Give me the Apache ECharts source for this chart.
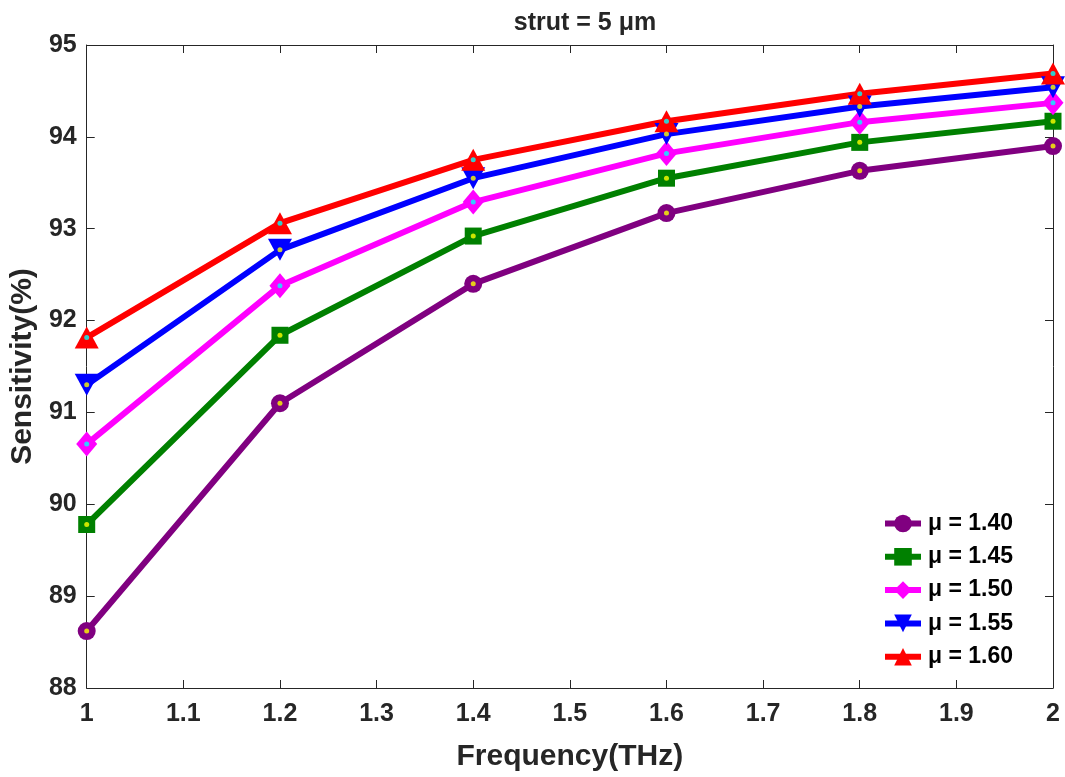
<!DOCTYPE html>
<html><head><meta charset="utf-8">
<script src="https://cdn.jsdelivr.net/npm/echarts@6/dist/echarts.min.js"></script>
<style>html,body{margin:0;padding:0;background:#fff}#c{width:1065px;height:777px}</style>
</head><body><div id="c"></div>
<script>
const freq = [1.0, 1.2, 1.4, 1.6, 1.8, 2.0];
const mu140 = [88.62, 91.10, 92.40, 93.17, 93.63, 93.90];
const mu145 = [89.78, 91.84, 92.92, 93.55, 93.94, 94.17];
const mu150 = [90.655, 92.38, 93.29, 93.82, 94.16, 94.37];
const mu155 = [91.30, 92.77, 93.55, 94.03, 94.33, 94.54];
const mu160 = [91.815, 93.06, 93.75, 94.17, 94.47, 94.69];
const names = ['μ = 1.40', 'μ = 1.45', 'μ = 1.50', 'μ = 1.55', 'μ = 1.60'];
const title = 'strut = 5 μm';

const groups = [
  {name: names[0], data: mu140, color: '#800080', dot: '#ffff00', symbol: 'circle', size: 18, rot: 0},
  {name: names[1], data: mu145, color: '#008000', dot: '#ffff00', symbol: 'rect', size: 17, rot: 0},
  {name: names[2], data: mu150, color: '#ff00ff', dot: '#00ffff', symbol: 'diamond', size: [21, 25], rot: 0},
  {name: names[3], data: mu155, color: '#0000ff', dot: '#ffff00', symbol: 'triangle', size: [24, 22], rot: 180},
  {name: names[4], data: mu160, color: '#ff0000', dot: '#00ffff', symbol: 'triangle', size: [24, 22], rot: 0}
];
const font = 'Liberation Sans, Arial, sans-serif';
const series = [];
groups.forEach(g => {
  const pts = freq.map((x, i) => [x, g.data[i]]);
  series.push({
    name: g.name, type: 'line', data: pts, symbol: g.symbol, symbolSize: g.size, symbolRotate: g.rot,
    showAllSymbol: true, lineStyle: {width: 6, color: g.color}, itemStyle: {color: g.color, borderWidth: 0},
    z: 2, silent: true, animation: false
  });
});
groups.forEach(g => {
  const pts = freq.map((x, i) => [x, g.data[i]]);
  series.push({
    type: 'scatter', data: pts, symbol: 'circle', symbolSize: 5,
    itemStyle: {color: g.dot}, z: 5, silent: true, animation: false
  });
});
const chart = echarts.init(document.getElementById('c'), null, {renderer: 'canvas'});
chart.setOption({
  animation: false,
  backgroundColor: '#fff',
  title: {text: title, left: 580, top: 6, textAlign: 'center',
    textStyle: {fontFamily: font, fontWeight: 'bold', fontSize: 25, color: '#262626'}},
  grid: {left: 86, right: 12, top: 45, bottom: 87, containLabel: false},
  legend: {
    orient: 'vertical', left: 877, top: 507, itemWidth: 36, itemHeight: 22, itemGap: 10.3,
    data: names,
    lineStyle: {width: 6},
    textStyle: {fontFamily: font, fontWeight: 'bold', fontSize: 23, color: '#000', padding: [0, 0, 0, 2]},
    selectedMode: false
  },
  xAxis: [{
    type: 'value', min: 1, max: 2, interval: 0.1, position: 'bottom',
    name: 'Frequency(THz)', nameLocation: 'middle', nameGap: 54,
    nameTextStyle: {fontFamily: font, fontWeight: 'bold', fontSize: 30, color: '#262626'},
    axisLine: {lineStyle: {color: '#262626', width: 1}},
    axisTick: {inside: true, length: 8, lineStyle: {color: '#262626'}},
    axisLabel: {fontFamily: font, fontWeight: 'bold', fontSize: 25, color: '#262626', margin: 14,
      formatter: v => String(Math.round(v * 10) / 10)},
    splitLine: {show: false}
  }, {
    type: 'value', min: 1, max: 2, interval: 0.1, position: 'top',
    axisLine: {lineStyle: {color: '#262626', width: 1}},
    axisTick: {inside: true, length: 8, lineStyle: {color: '#262626'}},
    axisLabel: {show: false}, splitLine: {show: false}
  }],
  yAxis: [{
    type: 'value', min: 88, max: 95, interval: 1, position: 'left',
    name: 'Sensitivity(%)', nameLocation: 'middle', nameGap: 43, nameRotate: 90,
    nameTextStyle: {fontFamily: font, fontWeight: 'bold', fontSize: 30, color: '#262626'},
    axisLine: {show: true, lineStyle: {color: '#262626', width: 1}},
    axisTick: {show: true, inside: true, length: 8, lineStyle: {color: '#262626'}},
    axisLabel: {fontFamily: font, fontWeight: 'bold', fontSize: 25, color: '#262626', margin: 10},
    splitLine: {show: false}
  }, {
    type: 'value', min: 88, max: 95, interval: 1, position: 'right',
    axisLine: {show: true, lineStyle: {color: '#262626', width: 1}},
    axisTick: {show: true, inside: true, length: 8, lineStyle: {color: '#262626'}},
    axisLabel: {show: false}, splitLine: {show: false}
  }],
  series: series
});
</script></body></html>
